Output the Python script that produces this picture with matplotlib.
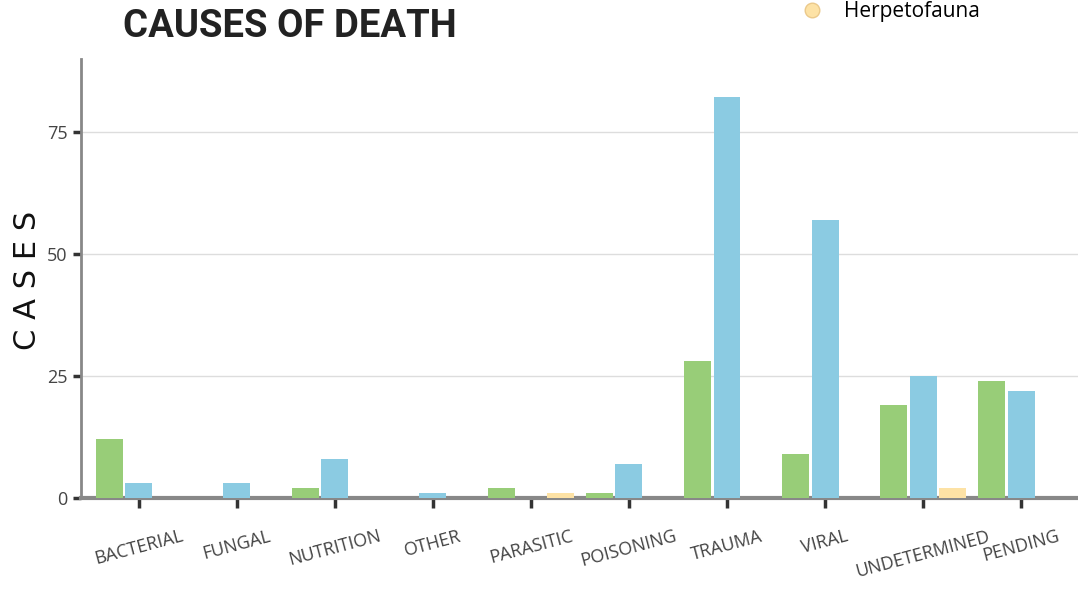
import matplotlib
matplotlib.use("Agg")
import matplotlib.pyplot as plt
from matplotlib.lines import Line2D
import numpy as np

causes = ["BACTERIAL", "FUNGAL", "NUTRITION", "OTHER", "PARASITIC",
          "POISONING", "TRAUMA", "VIRAL", "UNDETERMINED", "PENDING"]
series_a = [12, 0, 2, 0, 2, 1, 28, 9, 19, 24]
series_b = [3, 3, 8, 1, 0, 7, 82, 57, 25, 22]
herpetofauna = [0, 0, 0, 0, 1, 0, 0, 0, 2, 0]
colors = ["#98CD78", "#8BCBE2", "#FDE2A5"]
yticks = [0, 25, 50, 75]

fig = plt.figure(figsize=(10.78, 5.93), dpi=100)
ax = fig.add_axes([0.075, 0.16, 0.925, 0.74])

x = np.arange(len(causes))
w = 0.275
off = 0.30
for i, vals in enumerate([series_a, series_b, herpetofauna]):
    ax.bar(x + (i - 1) * off, vals, width=w, color=colors[i], zorder=3)

narrow = ["Liberation Sans Narrow", "Open Sans", "DejaVu Sans"]
ax.set_xlim(-0.59, 9.58)
ax.set_ylim(0, 89.8)
ax.set_yticks(yticks)
ax.set_xticks(x)
ax.set_xticklabels(causes, rotation=15, fontsize=13, color="#444444",
                   family=narrow)
for lab in ax.get_yticklabels():
    lab.set_family(narrow)
ax.tick_params(axis="y", labelsize=13, labelcolor="#444444", length=6,
               width=2.5, color="#333333")
ax.tick_params(axis="x", length=7, width=2.5, color="#333333", pad=14)

ax.grid(axis="y", color="#DDDDDD", linewidth=1, zorder=0)
for s in ["top", "right"]:
    ax.spines[s].set_visible(False)
ax.spines["left"].set_color("#888888")
ax.spines["left"].set_linewidth(2)
ax.spines["bottom"].set_color("#888888")
ax.spines["bottom"].set_linewidth(3)

# y axis title, drawn on the figure so it sits where the original does
fig.text(28 / 1078, 1 - 280 / 593, "C A S E S", fontsize=22,
         family="DejaVu Sans", rotation=90, ha="center", va="center",
         color="#111111")

fig.text(0.114, 0.956, "CAUSES OF DEATH", fontsize=27.5, fontweight="bold",
         family="Roboto", color="#222222", va="center")

# only the last legend entry is visible in the original
handle = Line2D([], [], marker="o", linestyle="", markersize=10.5,
                markerfacecolor=colors[2], markeredgecolor="#EBC98A")
fig.legend([handle], ["Herpetofauna"], loc="center left",
           bbox_to_anchor=(0.722, 1 - 12 / 593), frameon=False,
           prop={"family": ["Open Sans", "DejaVu Sans"], "size": 15},
           handletextpad=0.55, borderpad=0.1)

fig.savefig("out.png", dpi=100)
